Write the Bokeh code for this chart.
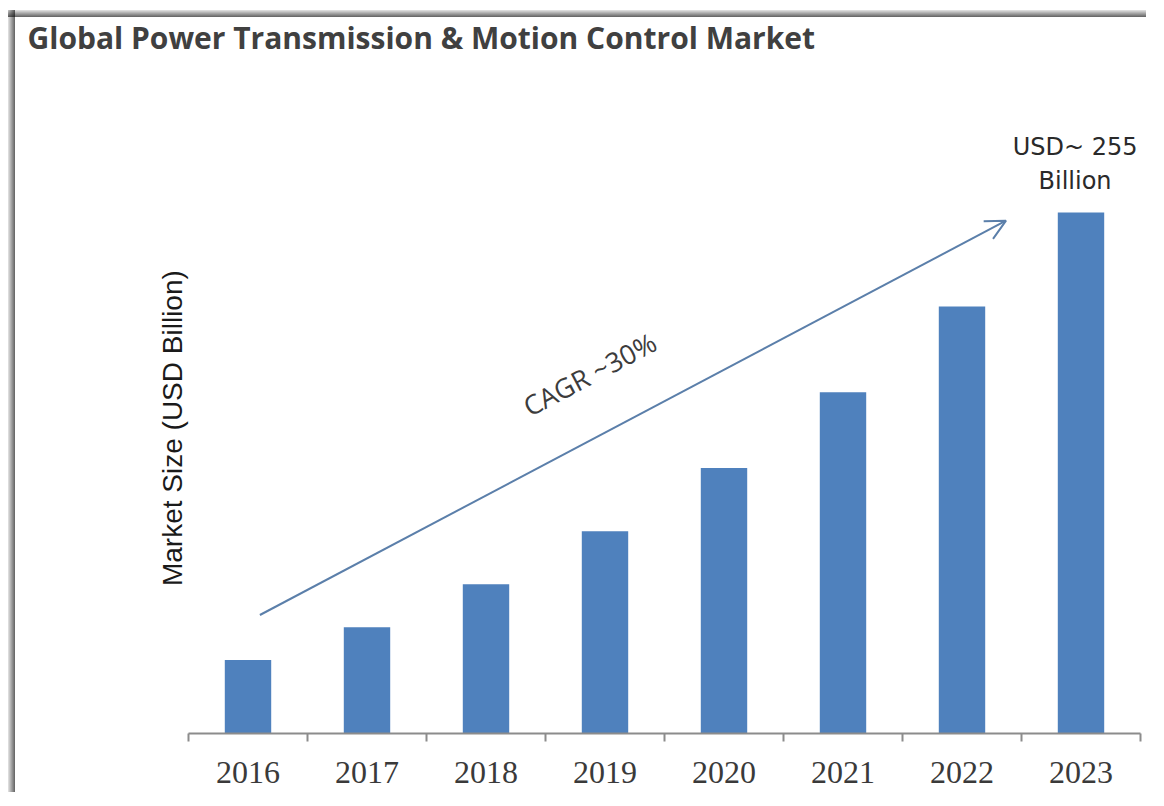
from bokeh.plotting import figure
from bokeh.models import (Range1d, FixedTicker, Label, Arrow, OpenHead, ColumnDataSource)
from bokeh.embed import file_html
from bokeh.resources import INLINE

# ---- data ----
years = ["2016", "2017", "2018", "2019", "2020", "2021", "2022", "2023"]
market_size = [36, 52, 73, 99, 130, 167, 209, 255]
title_text = "Global Power Transmission & Motion Control Market"
y_label = "Market Size (USD Billion)"
cagr_text = "CAGR ~30%"
end_label = ["USD~ 255", "Billion"]

BAR_COLOR = "#4F81BD"

xpos = [i + 0.5 for i in range(len(years))]
src = ColumnDataSource(dict(x=xpos, top=market_size, year=years))

p = figure(width=1148, height=792, output_backend="svg", toolbar_location=None,
           x_range=Range1d(0, len(years)), y_range=Range1d(0, 329.4),
           min_border_left=188, min_border_right=8, min_border_top=60, min_border_bottom=59)
p.outline_line_color = None
p.grid.visible = False
p.background_fill_color = None
p.border_fill_color = None
p.styles = {
    "background-color": "white",
    "background-image": ("linear-gradient(to right, rgba(0,0,0,0.10), rgba(0,0,0,0.62)), "
                         "linear-gradient(to bottom, rgba(0,0,0,0.10), rgba(0,0,0,0.62))"),
    "background-size": "7px 782px, 1138px 7px",
    "background-position": "8px 10px, 8px 10px",
    "background-repeat": "no-repeat",
}

p.title.text = title_text
p.title.align = "left"
p.title.offset = -161
p.title.standoff = 6
p.title.text_font = "Open Sans"
p.title.text_font_style = "bold"
p.title.text_font_size = "30px"
p.title.text_color = "#404040"

p.vbar(x="x", top="top", width=0.39, bottom=0, source=src, fill_color=BAR_COLOR,
       line_color=None)

xa = p.xaxis[0]
xa.ticker = FixedTicker(ticks=xpos, minor_ticks=list(range(len(years) + 1)))
xa.major_label_overrides = {x: y for x, y in zip(xpos, years)}
xa.major_tick_out = 0
xa.major_tick_in = 0
xa.minor_tick_out = 8
xa.minor_tick_in = 0
xa.minor_tick_line_color = "#8C8C8C"
xa.minor_tick_line_width = 2
xa.axis_line_color = "#8C8C8C"
xa.axis_line_width = 2
xa.major_label_text_font = "Liberation Serif"
xa.major_label_text_font_size = "32px"
xa.major_label_text_color = "#3A3A3A"
xa.major_label_standoff = 20

ya = p.yaxis[0]
ya.ticker = FixedTicker(ticks=[])
ya.axis_line_color = None
ya.major_tick_line_color = None
ya.minor_tick_line_color = None
# trailing no-break spaces move the visible label a little lower, as in the reference
ya.axis_label = y_label + "\u00a0" * 8
ya.axis_label_text_font = "Liberation Sans"
ya.axis_label_text_font_style = "normal"
ya.axis_label_text_font_size = "28px"
ya.axis_label_text_color = "#1A1A1A"
ya.axis_label_standoff = 1

p.add_layout(Arrow(end=OpenHead(size=20, line_color="#5B7FAA", line_width=2),
                   x_start=0.6, y_start=58, x_end=6.87, y_end=251,
                   line_color="#5B7FAA", line_width=2))
p.add_layout(Label(x=3.37, y=176, text=cagr_text, angle=0.487, text_align="center",
                   text_baseline="middle", text_font="Open Sans",
                   text_font_size="27px", text_color="#3C3C3C"))
p.add_layout(Label(x=7.45, y=287, text=end_label[0], text_align="center",
                   text_baseline="middle", text_font="DejaVu Sans",
                   text_font_size="24px", text_color="#2A2A2A"))
p.add_layout(Label(x=7.45, y=270.5, text=end_label[1], text_align="center",
                   text_baseline="middle", text_font="DejaVu Sans",
                   text_font_size="24px", text_color="#2A2A2A"))

open("out.html", "w").write(file_html(p, INLINE))
